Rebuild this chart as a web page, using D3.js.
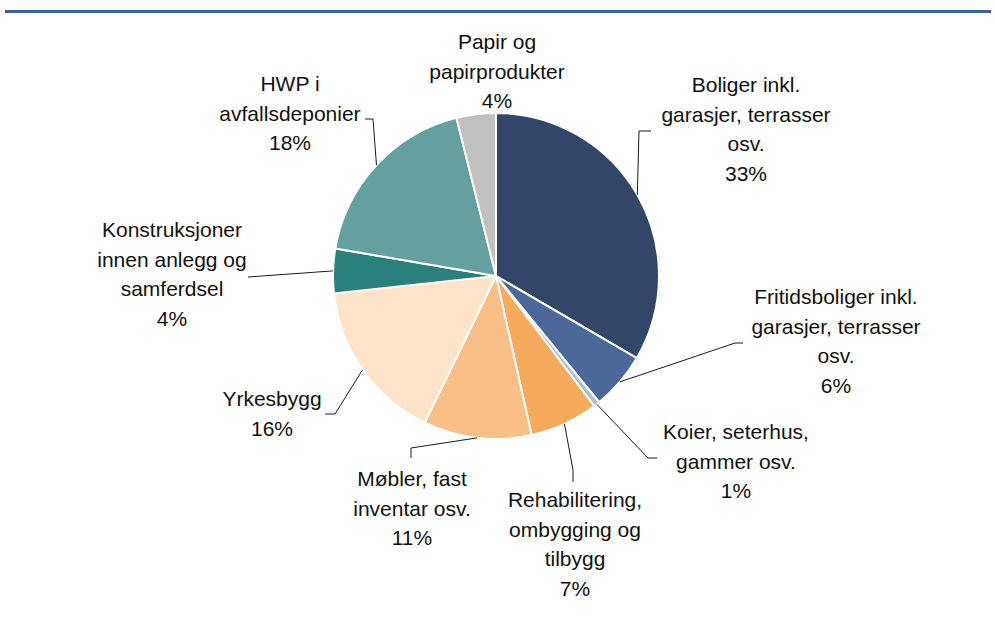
<!DOCTYPE html>
<html>
<head>
<meta charset="utf-8">
<script src="https://cdn.jsdelivr.net/npm/d3@7"></script>
<style>
  html, body { margin: 0; padding: 0; background: #fff; }
  svg { display: block; }
  text { font-family: "Liberation Sans", Arial, sans-serif; }
</style>
</head>
<body>
<svg id="chart" width="995" height="619"></svg>
<script>
// ---- Data ----
const categories = [
  "Boliger inkl. garasjer, terrasser osv.",
  "Fritidsboliger inkl. garasjer, terrasser osv.",
  "Koier, seterhus, gammer osv.",
  "Rehabilitering, ombygging og tilbygg",
  "Møbler, fast inventar osv.",
  "Yrkesbygg",
  "Konstruksjoner innen anlegg og samferdsel",
  "HWP i avfallsdeponier",
  "Papir og papirprodukter"
];
const values = [33.4, 5.7, 0.6, 6.8, 10.7, 16.1, 4.4, 18.4, 3.9];
const labelLines = [
  ["Boliger inkl.", "garasjer, terrasser", "osv."],
  ["Fritidsboliger inkl.", "garasjer, terrasser", "osv."],
  ["Koier, seterhus,", "gammer osv."],
  ["Rehabilitering,", "ombygging og", "tilbygg"],
  ["Møbler, fast", "inventar osv."],
  ["Yrkesbygg"],
  ["Konstruksjoner", "innen anlegg og", "samferdsel"],
  ["HWP i", "avfallsdeponier"],
  ["Papir og", "papirprodukter"]
];
const colors = ["#33466a", "#4a6899", "#a9bcdc", "#f6aa5c", "#f9bf87", "#fde3c8", "#2b807b", "#64a19e", "#c0c0c0"];

// ---- Layout (label placement, not data) ----
const labelLayout = [
  { x: 746, y: 92,  elbow: [639, 131], end: [651, 131] },
  { x: 836, y: 304, elbow: [735, 343], end: [743, 343] },
  { x: 736, y: 439, elbow: [648, 458], end: [657, 458] },
  { x: 575, y: 507, elbow: [573, 470], end: [573, 482] },
  { x: 412, y: 486, elbow: [411, 448], end: [411, 458] },
  { x: 272, y: 406, elbow: [335, 414], end: [325, 414] },
  { x: 172, y: 237, elbow: [248, 277], end: [248, 277] },
  { x: 290, y: 91,  elbow: [373, 119], end: [365, 119] },
  { x: 497, y: 49,  elbow: null, end: null }
];

const W = 995, H = 619;
const cx = 496, cy = 276, R = 163;
const lineH = 29.5;

const svg = d3.select("#chart");

// header rule
svg.append("rect").attr("x", 5).attr("y", 10).attr("width", 986).attr("height", 3).attr("fill", "#41608f");

const pie = d3.pie().sort(null).value(d => d)(values);
const arc = d3.arc().innerRadius(0).outerRadius(R);

const g = svg.append("g").attr("transform", `translate(${cx},${cy})`);
g.selectAll("path.slice")
  .data(pie)
  .join("path")
  .attr("class", "slice")
  .attr("d", arc)
  .attr("fill", (d, i) => colors[i])
  .attr("stroke", "#fff")
  .attr("stroke-width", 2)
  .attr("stroke-linejoin", "round");

// leader lines
const edgePoint = d => {
  const a = (d.startAngle + d.endAngle) / 2;
  return [cx + R * Math.sin(a), cy - R * Math.cos(a)];
};
pie.forEach((d, i) => {
  const L = labelLayout[i];
  if (!L.elbow) return;
  const p0 = edgePoint(d);
  const pts = [p0, L.elbow, L.end];
  svg.append("path")
    .attr("d", d3.line()(pts))
    .attr("fill", "none")
    .attr("stroke", "#1a1a1a")
    .attr("stroke-width", 1);
});

// labels
const fmt = v => Math.round(v) + "%";
pie.forEach((d, i) => {
  const L = labelLayout[i];
  const lines = labelLines[i].concat([fmt(values[i])]);
  const t = svg.append("text")
    .attr("text-anchor", "middle")
    .attr("font-size", 21)
    .attr("fill", "#111");
  lines.forEach((s, k) => {
    t.append("tspan").attr("x", L.x).attr("y", L.y + k * lineH).text(s);
  });
});
</script>
</body>
</html>
